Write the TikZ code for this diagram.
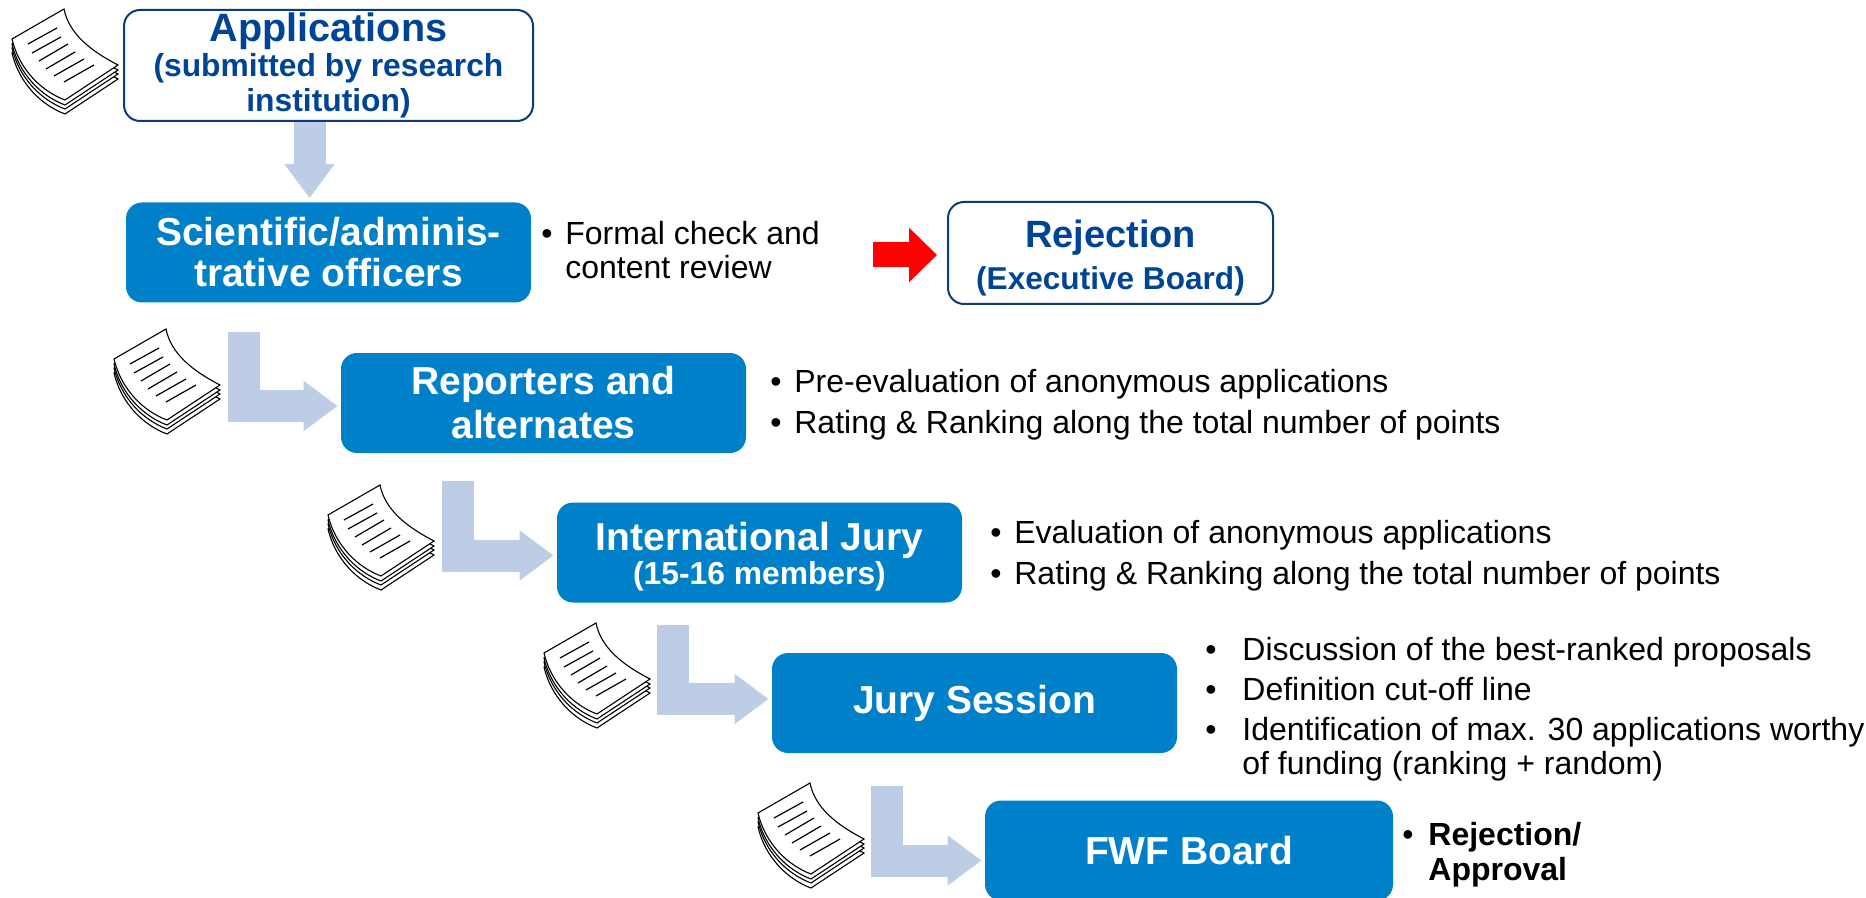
\documentclass[tikz,border=0pt]{standalone}
\usepackage{fontspec}
\setmainfont{Liberation Sans}
\usetikzlibrary{arrows.meta}
\definecolor{boxblue}{HTML}{0080C8}
\definecolor{titleblue}{HTML}{004595}
\definecolor{edgeblue}{HTML}{0F3A7A}
\definecolor{arrowblue}{HTML}{BDCDE6}
\newcommand{\bul}[2][13pt]{\makebox[#1][l]{\textbullet}#2}
\tikzset{
	stagebox/.style={fill=boxblue, text=white, rounded corners=8pt, inner sep=0pt, minimum width=202.5pt, minimum height=50pt, align=center, font=\fontsize{19.5}{22}\selectfont\bfseries},
	whitebox/.style={draw=edgeblue, line width=1pt, fill=white, text=titleblue, rounded corners=8pt, inner sep=0pt, align=center, font=\bfseries},
	bodylist/.style={anchor=west, inner sep=0pt, align=left, font=\fontsize{16}{#1}\selectfont},
	flowarrow/.style={draw=arrowblue, line width=16pt, line join=miter, -{Triangle[length=17pt,width=24pt]}, shorten >=1.5pt},
	papers/.pic={
		\foreach \dy in {14,9,5,0} {
			\draw[fill=white, line width=.55pt, yshift=-\dy*.5pt] (1,30) -- (53,0) .. controls (58,25) and (80,42) .. (107,56) -- (54,91) .. controls (30,82) and (8,60) .. (1,30) -- cycle;
		}
		\foreach \xa/\ya/\xb/\yb in {17/35/46/19, 21/44/50/28, 28/52/57/35, 35/60/64/43, 43/67/73/50, 53/73/83/56} {
			\draw[line width=.6pt] (\xa,\ya) -- (\xb,\yb);
		}
	}
}

\begin{document}
\begin{tikzpicture}[x=.5pt, y=-.5pt]
	\useasboundingbox (0,0) rectangle (1866,898);
	% boxes down the page
	\node[whitebox, minimum width=204.5pt, minimum height=55.5pt] (applications) at (328.5,65.5) {\fontsize{19.8}{19.5}\selectfont Applications\\[1pt]\fontsize{15.9}{17}\selectfont (submitted by research\\[1.5pt]\fontsize{15.9}{17}\selectfont institution)};
	\node[stagebox] (officers) at (328.5,252.5) {Scientific/adminis-\\[-1.5pt]trative officers};
	\node[stagebox] (reporters) at (543.5,403) {Reporters and\\alternates};
	\node[stagebox] (jury) at (759.5,552.5) {\rule{0pt}{18pt}International Jury\\[-4.8pt]\fontsize{15.9}{18.5}\selectfont (15-16 members)};
	\node[stagebox] (session) at (974.5,703) {Jury Session};
	\node[stagebox, minimum width=204pt] (board) at (1189,850.5) {FWF Board};
	\node[whitebox, minimum width=162.5pt, minimum height=51pt] (rejection) at (1110.5,253) {\rule{0pt}{18.5pt}\fontsize{19}{24}\selectfont Rejection\\[4.5pt]\fontsize{15.8}{21.5}\selectfont (Executive Board)};

	% arrows
	\draw[flowarrow] ([xshift=-9.5pt]applications.south) -- ([xshift=-9.5pt,yshift=.5pt]officers.north);
	\coordinate (redstart) at (873,255);
	\draw[draw=red, line width=12.5pt, -{Triangle[length=14pt,width=26.5pt]}, shorten >=5pt] (redstart) -- (rejection.west |- redstart);
	\coordinate (startreporters) at (244,332);
	\coordinate (startjury) at (458,481);
	\coordinate (startsession) at (673,625);
	\coordinate (startboard) at (887,786);
	\draw[flowarrow] (startreporters) |- ([yshift=-1.5pt]reporters.west);
	\draw[flowarrow] (startjury) |- ([yshift=-1.5pt]jury.west);
	\draw[flowarrow] (startsession) |- ([yshift=2pt]session.west);
	\draw[flowarrow] (startboard) |- ([yshift=-5pt]board.west);

	% document stacks
	\pic (stackA) at (11,9) {papers};
	\pic (stackB) at (113,329) {papers};
	\pic (stackC) at (327,485) {papers};
	\pic (stackD) at (543,623) {papers};
	\pic (stackE) at (757,783) {papers};

	% texts next to the boxes
	\node[bodylist=17pt] (checklist) at (541,250) {\bul[12pt]{Formal check and}\\\hspace*{12pt}content review};
	\node[bodylist=20.5pt] (reporterlist) at (770,405) {\bul[12pt]{Pre-evaluation of anonymous applications}\\\bul[12pt]{Rating \& Ranking along the total number of points}};
	\node[bodylist=20.5pt] (jurylist) at (990,556) {\bul[12pt]{Evaluation of anonymous applications}\\\bul[12pt]{Rating \& Ranking along the total number of points}};
	\node[bodylist=17pt] (sessionlist) at (1205,709) {\bul[18.5pt]{Discussion of the best-ranked proposals}\\[3pt]\bul[18.5pt]{Definition cut-off line}\\[3pt]\bul[18.5pt]{Identification of max. 30 applications worthy}\\\hspace*{18.5pt}of funding (ranking + random)};
	\node[bodylist=17.5pt] (boardlist) at (1402,855) {\bul{\textbf{Rejection/}}\\\hspace*{13pt}\textbf{Approval}};
\end{tikzpicture}
\end{document}
